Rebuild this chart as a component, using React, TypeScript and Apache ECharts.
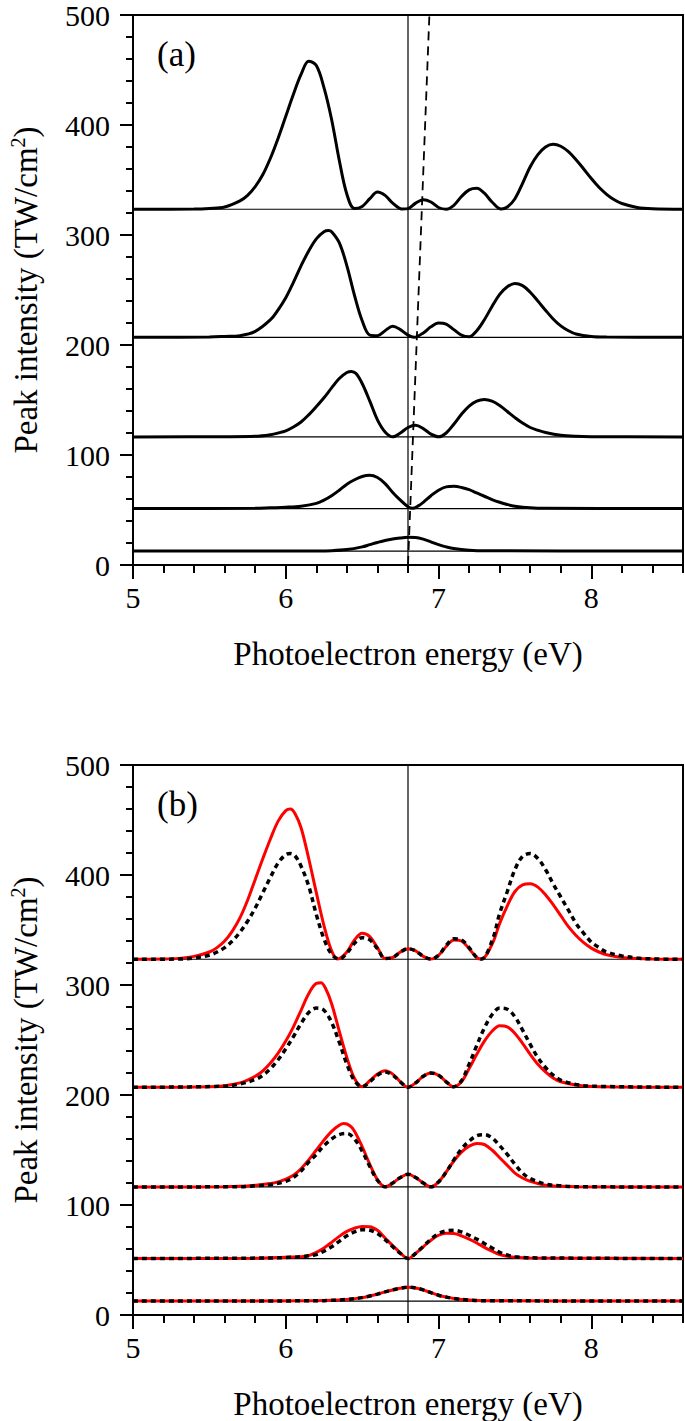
import React, { useEffect, useRef } from "react";
import * as echarts from "echarts";

type Pt = [number, number];

// ---------- axis ticks ----------
const xMajorTicks = [5, 6, 7, 8];
const xMinorTicks = [5.2, 5.4, 5.6, 5.8, 6.2, 6.4, 6.6, 6.8, 7.2, 7.4, 7.6, 7.8, 8.2, 8.4, 8.6];

// ---------- reference energy / ponderomotive shift ----------
const centerEnergy = 6.8;
const shiftLine: Pt[] = [[6.8, 0], [6.94, 500]];

// peak intensities (baselines of the spectra, TW/cm^2)
const baselines = [12.7, 51.3, 116.4, 207, 323.4];

// ---------- panel (a) spectra ----------
const a1: Pt[] = [[5.0,323.4],[5.4,323.6],[5.5,324.2],[5.6,325.5],[5.7,331],[5.75,336],[5.8,344],[5.85,355],[5.9,370],[5.95,388],[6.0,408],[6.05,428],[6.1,446],[6.15,458],[6.2,454],[6.25,434],[6.3,405],[6.35,368],[6.4,337],[6.45,324],[6.5,326],[6.55,333],[6.6,339],[6.65,336],[6.7,329],[6.76,323.6],[6.8,324],[6.85,329],[6.9,332],[6.95,330],[7.0,325],[7.05,323.5],[7.1,327],[7.15,335],[7.2,341],[7.25,342.5],[7.3,338],[7.35,330],[7.41,323.6],[7.45,325.5],[7.5,333],[7.55,347],[7.6,362],[7.65,373],[7.7,380],[7.75,382.5],[7.8,380.7],[7.85,375.7],[7.9,368.4],[7.95,360],[8.0,351.3],[8.05,343.4],[8.1,337],[8.15,332],[8.2,328.6],[8.3,325],[8.4,323.8],[8.6,323.4]];
const a2: Pt[] = [[5.0,207],[5.5,207.3],[5.6,207.8],[5.7,208.5],[5.8,212.4],[5.9,223],[5.95,232],[6.0,243],[6.05,257],[6.1,272],[6.15,285.5],[6.2,296.5],[6.25,303],[6.28,304],[6.3,303],[6.35,293],[6.4,272],[6.45,245],[6.5,222],[6.55,209],[6.6,208.5],[6.65,213],[6.7,217],[6.75,214],[6.8,209],[6.84,207],[6.9,211],[6.95,216.5],[7.0,220],[7.05,219],[7.1,214],[7.15,209],[7.2,207.5],[7.25,213],[7.3,223],[7.35,235],[7.4,246],[7.45,253],[7.5,256],[7.55,254],[7.6,248],[7.65,240],[7.7,231.6],[7.75,223.7],[7.8,217.4],[7.85,213],[7.9,210],[8.0,207.7],[8.1,207.2],[8.6,207]];
const a3: Pt[] = [[5.0,116.4],[5.6,116.6],[5.8,117],[5.9,118.5],[5.95,120],[6.0,122],[6.05,125.5],[6.1,130],[6.15,136.5],[6.2,144],[6.25,152],[6.3,161],[6.35,169.5],[6.4,175],[6.43,176],[6.46,174],[6.5,165],[6.55,149],[6.6,132],[6.65,121],[6.7,116.5],[6.75,120],[6.8,125],[6.85,127],[6.9,124],[6.95,119],[7.0,116.5],[7.05,120],[7.1,128],[7.15,137],[7.2,144.5],[7.25,149],[7.3,150.5],[7.35,149],[7.4,145],[7.45,139.5],[7.5,134],[7.55,129],[7.6,125],[7.65,122.5],[7.7,120.5],[7.8,118],[7.9,117],[8.0,116.7],[8.6,116.4]];
const a4: Pt[] = [[5.0,51.3],[5.8,51.5],[5.9,52],[6.0,52.5],[6.1,53.5],[6.2,56],[6.25,59],[6.3,63],[6.35,68],[6.4,73.5],[6.45,77.5],[6.5,80.5],[6.55,81.5],[6.6,79.5],[6.65,74],[6.7,66],[6.75,59],[6.8,53],[6.83,51.5],[6.87,54],[6.9,57],[6.95,63],[7.0,68],[7.05,71],[7.1,71.5],[7.15,70.5],[7.2,68.5],[7.25,65.5],[7.3,62.5],[7.35,59.5],[7.4,57],[7.45,55],[7.5,53.5],[7.6,52],[7.7,51.5],[8.6,51.3]];
const a5: Pt[] = [[5.0,12.7],[6.2,12.8],[6.3,13],[6.4,14],[6.5,16.5],[6.55,18.5],[6.6,20.5],[6.65,22.3],[6.7,23.6],[6.75,24.5],[6.8,25.2],[6.85,25],[6.9,23.5],[6.95,21],[7.0,18.5],[7.05,16.5],[7.1,15],[7.2,13.5],[7.3,12.9],[8.6,12.7]];

// ---------- panel (b) spectra: red solid and black dotted ----------
const b1Red: Pt[] = [[5.0,323.4],[5.2,323.6],[5.3,324.2],[5.4,326],[5.5,330],[5.55,334],[5.6,340],[5.65,349],[5.7,361],[5.75,377],[5.8,396],[5.85,415],[5.9,433],[5.95,449],[6.0,458.5],[6.03,460],[6.06,456],[6.1,443],[6.15,415],[6.2,384],[6.25,354],[6.3,331],[6.34,323.6],[6.4,330],[6.45,341],[6.5,347],[6.55,344],[6.6,334],[6.65,324],[6.7,325],[6.75,330],[6.8,333],[6.85,331],[6.9,326],[6.95,323.6],[7.0,327],[7.05,335],[7.1,341],[7.15,340],[7.2,333],[7.25,325],[7.28,323.6],[7.35,337],[7.4,356],[7.45,372],[7.5,385],[7.55,391],[7.6,392],[7.65,389],[7.7,382],[7.75,373],[7.8,363],[7.85,353],[7.9,345],[7.95,338.5],[8.0,333.5],[8.05,330],[8.1,327.5],[8.2,325],[8.3,324],[8.4,323.6],[8.6,323.4]];
const b1Black: Pt[] = [[5.0,323.4],[5.3,323.6],[5.4,324.5],[5.5,327],[5.55,330],[5.6,334],[5.65,340],[5.7,348],[5.75,358],[5.8,370],[5.85,384],[5.9,398],[5.95,411],[6.0,418.5],[6.03,419.5],[6.06,417.5],[6.1,408],[6.15,390],[6.2,364],[6.25,342],[6.3,328],[6.35,323.6],[6.4,329],[6.45,338],[6.5,343],[6.55,341],[6.6,333],[6.65,324],[6.7,325],[6.75,330],[6.8,333],[6.85,331],[6.9,326],[6.95,323.6],[7.0,327],[7.05,336],[7.1,342],[7.15,341],[7.2,334],[7.25,325],[7.28,323.6],[7.35,340],[7.4,365],[7.45,385],[7.5,405],[7.55,417],[7.6,419.5],[7.65,415],[7.7,405],[7.75,392],[7.8,380],[7.85,368],[7.9,356],[7.95,347],[8.0,339],[8.05,334],[8.1,330],[8.2,326.5],[8.3,324.5],[8.4,323.7],[8.6,323.4]];
const b2Red: Pt[] = [[5.0,207],[5.5,207.5],[5.6,208.5],[5.7,211],[5.75,213.5],[5.8,217],[5.85,222],[5.9,229],[5.95,238],[6.0,249],[6.05,262],[6.1,277],[6.15,292],[6.2,301.5],[6.23,302],[6.26,297],[6.3,283],[6.35,258],[6.4,234],[6.45,215],[6.5,207.5],[6.55,213],[6.6,219],[6.65,222],[6.7,219],[6.75,212],[6.8,207],[6.85,211],[6.9,217],[6.95,220],[7.0,218],[7.05,212],[7.1,207.5],[7.15,212],[7.2,224],[7.25,237],[7.3,249],[7.35,258],[7.4,263],[7.45,262],[7.5,256],[7.55,247],[7.6,237],[7.65,228],[7.7,221],[7.75,215.5],[7.8,212],[7.9,209],[8.0,207.8],[8.6,207]];
const b2Black: Pt[] = [[5.0,207],[5.6,208],[5.7,210],[5.8,214],[5.85,218],[5.9,224],[5.95,232],[6.0,242],[6.05,253],[6.1,265],[6.15,275],[6.2,279],[6.25,277],[6.3,266],[6.35,248],[6.4,228],[6.45,213],[6.5,207.5],[6.55,212],[6.6,218],[6.65,221],[6.7,218],[6.75,212],[6.8,207],[6.85,211],[6.9,217],[6.95,220],[7.0,218],[7.05,212],[7.1,207.5],[7.15,213],[7.2,228],[7.25,245],[7.3,261],[7.35,273],[7.4,279],[7.45,278],[7.5,271],[7.55,259],[7.6,246],[7.65,234],[7.7,225],[7.75,218],[7.8,213.5],[7.9,209.5],[8.0,208],[8.6,207]];
const b3Red: Pt[] = [[5.0,116.4],[5.6,116.6],[5.7,117],[5.8,118],[5.9,119.5],[5.95,121],[6.0,123.5],[6.05,127],[6.1,133],[6.15,141],[6.2,150],[6.25,159],[6.3,167],[6.35,172.5],[6.38,174],[6.42,172],[6.45,167],[6.5,153],[6.55,137],[6.6,123],[6.65,116.5],[6.7,120],[6.75,125],[6.8,128],[6.85,125],[6.9,120],[6.95,116.5],[7.0,121],[7.05,130],[7.1,140],[7.15,148],[7.2,153.5],[7.25,156],[7.3,155],[7.35,150],[7.4,143],[7.45,136],[7.5,129],[7.55,124.5],[7.6,121.5],[7.7,118],[7.8,117],[7.9,116.6],[8.6,116.4]];
const b3Black: Pt[] = [[5.0,116.4],[5.7,116.6],[5.8,117.5],[5.9,118.5],[6.0,121.5],[6.05,125],[6.1,131],[6.15,139],[6.2,146],[6.25,154],[6.3,160],[6.35,164],[6.4,165],[6.45,160],[6.5,149],[6.55,135],[6.6,122.5],[6.65,116.5],[6.7,120],[6.75,125],[6.8,128],[6.85,125],[6.9,120],[6.95,116.5],[7.0,121],[7.05,130],[7.1,141],[7.15,151],[7.2,158],[7.25,163],[7.3,164],[7.35,161],[7.4,154],[7.45,146],[7.5,137],[7.55,129],[7.6,124],[7.7,119],[7.8,117.5],[7.9,116.6],[8.6,116.4]];
const b4Red: Pt[] = [[5.0,51.3],[5.8,51.5],[5.9,52],[6.0,52.5],[6.1,53],[6.15,54],[6.2,57],[6.25,61],[6.3,66],[6.35,71.5],[6.4,76],[6.45,79],[6.5,80.5],[6.55,80.3],[6.6,77],[6.65,70],[6.7,63],[6.75,56.5],[6.8,51.3],[6.85,56],[6.9,62],[6.95,68],[7.0,72.5],[7.05,74.3],[7.1,74],[7.15,72],[7.2,69],[7.25,65.5],[7.3,61.5],[7.35,58],[7.4,55],[7.45,53.5],[7.5,52.5],[7.6,51.8],[8.6,51.3]];
const b4Black: Pt[] = [[5.0,51.3],[5.9,51.8],[6.0,52.2],[6.1,53],[6.2,55],[6.25,58],[6.3,62],[6.35,67],[6.4,72],[6.45,75.5],[6.5,77.5],[6.55,77],[6.6,74],[6.65,68.5],[6.7,62],[6.75,56],[6.8,51.3],[6.85,56],[6.9,62.5],[6.95,69],[7.0,74],[7.05,76.5],[7.1,77],[7.15,75.5],[7.2,72.5],[7.25,69],[7.3,65],[7.35,61],[7.4,57],[7.45,54.5],[7.5,53],[7.6,52],[8.6,51.3]];
const b5Red: Pt[] = [[5.0,12.7],[6.2,12.9],[6.3,13.3],[6.4,14.2],[6.5,15.8],[6.55,17.3],[6.6,19],[6.65,21],[6.7,22.8],[6.75,24.3],[6.8,25.2],[6.85,24.6],[6.9,22.8],[6.95,20.3],[7.0,18],[7.05,16.3],[7.1,15],[7.2,13.6],[7.3,13],[8.6,12.7]];
const b5Black: Pt[] = [[5.0,12.7],[6.2,12.9],[6.3,13.3],[6.4,14.2],[6.5,15.8],[6.55,17.3],[6.6,19],[6.65,21],[6.7,22.8],[6.75,24.3],[6.8,25.2],[6.85,24.6],[6.9,22.8],[6.95,20.3],[7.0,18],[7.05,16.3],[7.1,15],[7.2,13.6],[7.3,13],[8.6,12.7]];

const panelACurves = [a5, a4, a3, a2, a1];
const panelBRed = [b5Red, b4Red, b3Red, b2Red, b1Red];
const panelBBlack = [b5Black, b4Black, b3Black, b2Black, b1Black];

const FONT = "Liberation Serif, Times New Roman, serif";
const X_MIN = 5;
const X_MAX = 8.6;
const Y_MIN = 0;
const Y_MAX = 500;

function lineSeries(data: Pt[], xi: number, yi: number, style: any, z: number, smooth: number | boolean = 0.35) {
  return {
    type: "line",
    xAxisIndex: xi,
    yAxisIndex: yi,
    data,
    showSymbol: false,
    symbol: "none",
    smooth,
    silent: true,
    z,
    lineStyle: style,
  };
}

function mainX(gridIndex: number) {
  return {
    type: "value",
    gridIndex,
    min: X_MIN,
    max: X_MAX,
    position: "bottom",
    name: "Photoelectron energy (eV)",
    nameLocation: "middle",
    nameGap: 72,
    nameTextStyle: { fontFamily: FONT, fontSize: 33, color: "#000" },
    axisLine: { show: true, onZero: false, lineStyle: { color: "#000", width: 2 } },
    axisTick: { show: true, customValues: xMajorTicks, length: 14, lineStyle: { color: "#000", width: 2 } },
    axisLabel: { customValues: xMajorTicks, margin: 17, fontFamily: FONT, fontSize: 30, color: "#000" },
    splitLine: { show: false },
  };
}

function minorX(gridIndex: number) {
  return {
    type: "value",
    gridIndex,
    min: X_MIN,
    max: X_MAX,
    position: "bottom",
    axisLine: { show: false, onZero: false },
    axisTick: { show: true, customValues: xMinorTicks, length: 8, lineStyle: { color: "#000", width: 2 } },
    axisLabel: { show: false },
    splitLine: { show: false },
  };
}

function mainY(gridIndex: number) {
  return {
    type: "value",
    gridIndex,
    min: Y_MIN,
    max: Y_MAX,
    interval: 100,
    name: "Peak intensity (TW/cm{sup|2})",
    nameLocation: "middle",
    nameGap: 90,
    nameTextStyle: {
      fontFamily: FONT,
      fontSize: 33,
      color: "#000",
      rich: { sup: { fontFamily: FONT, fontSize: 20, color: "#000", padding: [0, 0, 15, 0] } },
    },
    axisLine: { show: true, onZero: false, lineStyle: { color: "#000", width: 2 } },
    axisTick: { show: true, length: 13, lineStyle: { color: "#000", width: 2 } },
    minorTick: { show: true, splitNumber: 5, length: 7, lineStyle: { color: "#000", width: 2 } },
    axisLabel: { margin: 23, fontFamily: FONT, fontSize: 30, color: "#000" },
    splitLine: { show: false },
    minorSplitLine: { show: false },
  };
}

function buildOption() {
  const series: any[] = [];
  const thin = { color: "#000", width: 1.2 };
  // Panel (a): xAxis 0 (main), 1 (minor); yAxis 0
  baselines.forEach((b) => series.push(lineSeries([[X_MIN, b], [X_MAX, b]], 0, 0, thin, 2, false)));
  series.push(lineSeries([[centerEnergy, Y_MIN], [centerEnergy, Y_MAX]], 0, 0, thin, 2, false));
  series.push(lineSeries(shiftLine, 0, 0, { color: "#000", width: 1.8, type: [9, 6] }, 3, false));
  panelACurves.forEach((c) => series.push(lineSeries(c, 0, 0, { color: "#000", width: 3 }, 4)));
  // Panel (b): xAxis 2 (main), 3 (minor); yAxis 1
  baselines.forEach((b) => series.push(lineSeries([[X_MIN, b], [X_MAX, b]], 2, 1, thin, 2, false)));
  series.push(lineSeries([[centerEnergy, Y_MIN], [centerEnergy, Y_MAX]], 2, 1, thin, 2, false));
  panelBRed.forEach((c) => series.push(lineSeries(c, 2, 1, { color: "#ff0000", width: 3 }, 4)));
  panelBBlack.forEach((c) =>
    series.push(lineSeries(c, 2, 1, { color: "#000", width: 3.5, type: [5, 4], cap: "butt" }, 5))
  );

  return {
    animation: false,
    backgroundColor: "#fff",
    grid: [
      { left: 133, top: 15, width: 550, height: 550, show: true, borderColor: "#000", borderWidth: 2, backgroundColor: "transparent", outerBoundsMode: "none" },
      { left: 133, top: 765, width: 550, height: 550, show: true, borderColor: "#000", borderWidth: 2, backgroundColor: "transparent", outerBoundsMode: "none" },
    ],
    xAxis: [mainX(0), minorX(0), mainX(1), minorX(1)],
    yAxis: [mainY(0), mainY(1)],
    graphic: [
      { type: "text", left: 157, top: 37, style: { text: "(a)", fontFamily: FONT, fontSize: 35, fill: "#000" } },
      { type: "text", left: 157, top: 787, style: { text: "(b)", fontFamily: FONT, fontSize: 35, fill: "#000" } },
    ],
    series,
  };
}

export default function App() {
  const ref = useRef<HTMLDivElement>(null);
  useEffect(() => {
    if (!ref.current) return;
    const chart = echarts.init(ref.current, undefined, { renderer: "svg" });
    chart.setOption(buildOption() as any);
    return () => chart.dispose();
  }, []);
  return (
    <div
      ref={ref}
      style={{ position: "absolute", left: 0, top: 0, width: 685, height: 1421, background: "#fff" }}
    />
  );
}
